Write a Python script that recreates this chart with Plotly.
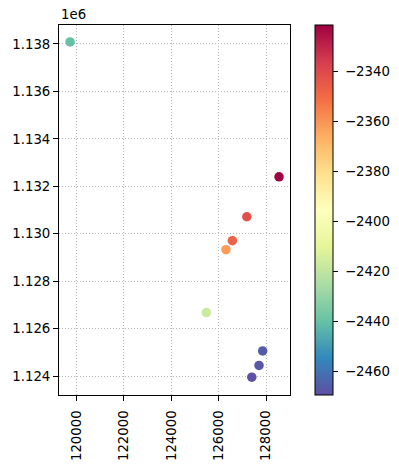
import plotly.graph_objects as go

x_vals = [119730, 128550, 127190, 126580, 126310, 125480, 127860, 127705, 127400]
y_vals = [1138085, 1132400, 1130715, 1129705, 1129325, 1126675, 1125060, 1124445, 1123950]
z_vals = [-2440, -2322, -2342, -2348, -2362, -2417, -2466, -2467, -2469]

x_ticks = [120000, 122000, 124000, 126000, 128000]
x_ticklabels = ["120000", "122000", "124000", "126000", "128000"]
y_ticks = [1124000, 1126000, 1128000, 1130000, 1132000, 1134000, 1136000, 1138000]
y_ticklabels = ["1.124", "1.126", "1.128", "1.130", "1.132", "1.134", "1.136", "1.138"]
cb_ticks = [-2460, -2440, -2420, -2400, -2380, -2360, -2340]
cb_ticklabels = ["\u22122460", "\u22122440", "\u22122420", "\u22122400", "\u22122380", "\u22122360", "\u22122340"]

spectral = ["#9e0142", "#d53e4f", "#f46d43", "#fdae61", "#fee08b", "#ffffbf",
            "#e6f598", "#abdda4", "#66c2a5", "#3288bd", "#5e4fa2"]
spectral_r = spectral[::-1]
colorscale = [[i / 10, c] for i, c in enumerate(spectral_r)]

font = dict(family="DejaVu Sans", size=13.3, color="black")

# page body has an 8px default margin, so the figure is shifted by that amount
fig = go.Figure(go.Scatter(
    x=x_vals, y=y_vals, mode="markers",
    marker=dict(size=9.5, color=z_vals, colorscale=colorscale,
                cmin=-2469.5, cmax=-2321.5, line=dict(width=0),
                colorbar=dict(x=(315 - 59) / 231, xanchor="left", xref="paper",
                              y=0.5, yanchor="middle", len=1, lenmode="fraction",
                              xpad=0, ypad=0,
                              thickness=18, outlinecolor="black", outlinewidth=1,
                              tickvals=cb_ticks,
                              ticktext=["\u00a0" + t for t in cb_ticklabels],
                              ticks="outside", ticklen=5, tickcolor="black",
                              tickfont=font)),
    showlegend=False,
))

axis_common = dict(showline=True, linecolor="black", linewidth=1, mirror=True,
                   ticks="outside", ticklen=5, tickcolor="black",
                   showgrid=True, gridcolor="#b8b8b8", griddash="1px,2px", gridwidth=1,
                   zeroline=False, tickfont=font, automargin=False)

fig.update_xaxes(range=[119262, 129013], tickvals=x_ticks, ticktext=x_ticklabels,
                 tickangle=-90, ticklabelstandoff=4, **axis_common)
fig.update_yaxes(range=[1123200, 1138800], tickvals=y_ticks, ticktext=y_ticklabels,
                 **axis_common)

fig.add_annotation(text="1e6", xref="paper", yref="paper", x=0, y=1,
                   xanchor="left", yanchor="bottom", yshift=1, showarrow=False,
                   font=font)

fig.update_layout(width=391, height=459, autosize=False,
                  margin=dict(l=51, r=109, t=17, b=72, autoexpand=False),
                  paper_bgcolor="white", plot_bgcolor="white", font=font)

fig.write_html("out.html")
